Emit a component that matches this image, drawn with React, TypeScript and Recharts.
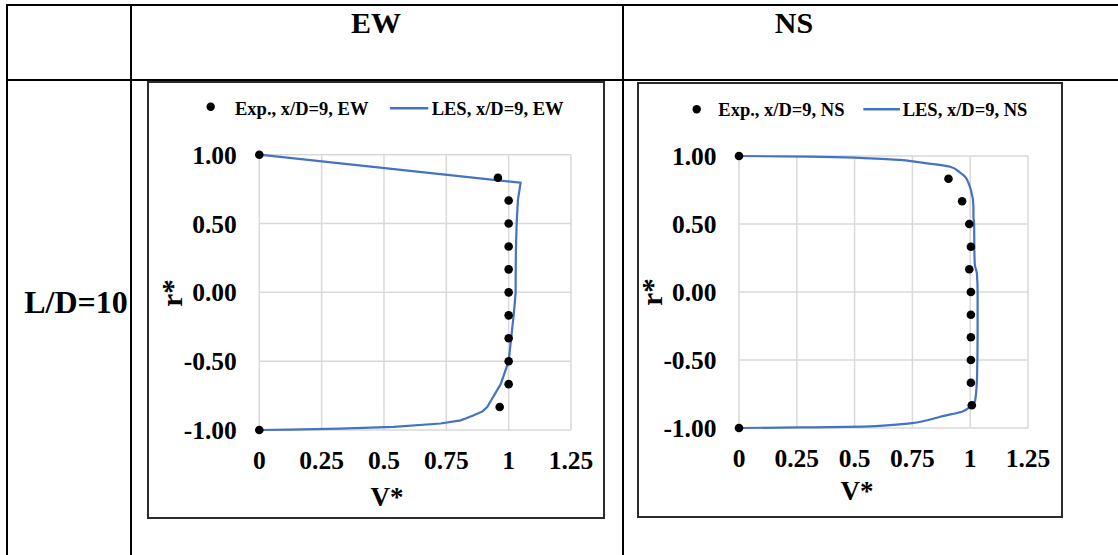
import { ScatterChart, Scatter, XAxis, YAxis, CartesianGrid } from 'recharts';

// radial stations of the measurement rake (r*)
const expR = [1, 0.833, 0.667, 0.5, 0.333, 0.167, 0, -0.167, -0.333, -0.5, -0.667, -0.833, -1];
const ewExpV = [0, 0.957, 1.0, 1.0, 1.0, 1.0, 1.0, 1.0, 1.0, 1.0, 1.0, 0.964, 0];
const nsExpV = [0, 0.906, 0.965, 0.996, 1.003, 0.996, 1.003, 1.003, 1.003, 1.003, 1.003, 1.007, 0];

// LES profiles, ordered from the top wall to the bottom wall
const ewLesR = [1, 0.796, 0.67, 0.5, 0.3, 0.1, 0, -0.15, -0.333, -0.5, -0.667, -0.784, -0.833, -0.865, -0.893, -0.915, -0.93, -0.953, -0.978, -0.99, -0.997, -1];
const ewLesV = [0, 1.048, 1.037, 1.032, 1.029, 1.028, 1.028, 1.021, 1.01, 1.0, 0.968, 0.93, 0.914, 0.895, 0.86, 0.83, 0.807, 0.727, 0.539, 0.324, 0.123, 0];

const nsLesR = [1, 0.995, 0.985, 0.971, 0.958, 0.921, 0.88, 0.848, 0.8, 0.75, 0.627, 0.554, 0.5, 0.3, 0.2, 0.137, 0, -0.3, -0.6, -0.794, -0.843, -0.88, -0.917, -0.945, -0.966, -0.99, -0.996, -1];
const nsLesV = [0, 0.3, 0.54, 0.697, 0.76, 0.913, 0.955, 0.978, 0.993, 1.003, 1.014, 1.014, 1.017, 1.018, 1.02, 1.029, 1.032, 1.032, 1.03, 1.022, 1.0, 0.964, 0.87, 0.81, 0.74, 0.538, 0.25, 0];

const vTicks = [0, 0.25, 0.5, 0.75, 1, 1.25];
const rTicks = [-1, -0.5, 0, 0.5, 1];

const toPoints = (v: number[], r: number[]) => v.map((x, i) => ({ v: x, r: r[i] }));

const FONT = "'Liberation Serif', 'Times New Roman', serif";
const BLUE = '#4472C4';

const tickStyle = { fill: '#000', fontSize: 25.5, fontWeight: 700, fontFamily: FONT };

const Dot = (props: any) => <circle cx={props.cx} cy={props.cy} r={4.3} fill="#000" />;
const NoMarker = () => <g />;

type PanelProps = {
  left: number;
  top: number;
  width: number;
  height: number;
  plot: { top: number; right: number; left: number; bottom: number };
  xGap: number;
  yGap: number;
  curve: 'linear' | 'monotoneY';
  exp: { v: number; r: number }[];
  les: { v: number; r: number }[];
};

function Panel({ left, top, width, height, plot, xGap, yGap, curve, exp, les }: PanelProps) {
  return (
    <div
      style={{
        position: 'absolute',
        left,
        top,
        width,
        height,
        boxSizing: 'border-box',
        border: '2px solid #2b2b2b',
      }}
    >
      <div style={{ position: 'absolute', left: -2, top: -2 }}>
        <ScatterChart width={width} height={height} margin={{ top: plot.top, right: plot.right, left: 0, bottom: 0 }}>
          <CartesianGrid stroke="#d9d9d9" strokeWidth={1.5} />
          <XAxis
            type="number"
            dataKey="v"
            domain={[0, 1.25]}
            ticks={vTicks}
            tickFormatter={(x: number) => String(x)}
            axisLine={false}
            tickLine={false}
            tickSize={0}
            tickMargin={xGap}
            height={plot.bottom}
            tick={tickStyle}
            interval={0}
          />
          <YAxis
            type="number"
            dataKey="r"
            domain={[-1, 1]}
            ticks={rTicks}
            tickFormatter={(y: number) => y.toFixed(2)}
            axisLine={false}
            tickLine={false}
            tickSize={0}
            tickMargin={yGap}
            width={plot.left}
            tick={tickStyle}
            interval={0}
          />
          <Scatter
            data={les}
            line={{ stroke: BLUE, strokeWidth: 2.2 }}
            lineJointType={curve}
            shape={NoMarker}
            isAnimationActive={false}
          />
          <Scatter data={exp} shape={Dot} isAnimationActive={false} />
        </ScatterChart>
      </div>
    </div>
  );
}

const bold = { fontFamily: FONT, fontWeight: 700, fill: '#000' } as const;

export default function App() {
  return (
    <div
      style={{
        position: 'absolute',
        left: 0,
        top: 0,
        width: 1118,
        height: 555,
        overflow: 'hidden',
        background: '#fff',
      }}
    >
      <Panel
        left={147}
        top={81}
        width={458}
        height={438}
        plot={{ top: 73.7, right: 34, left: 112.3, bottom: 89 }}
        xGap={20.5}
        yGap={22.5}
        curve="linear"
        exp={toPoints(ewExpV, expR)}
        les={toPoints(ewLesV, ewLesR)}
      />
      <Panel
        left={637}
        top={82}
        width={426}
        height={436}
        plot={{ top: 74, right: 35, left: 102, bottom: 90 }}
        xGap={21}
        yGap={22.5}
        curve="monotoneY"
        exp={toPoints(nsExpV, expR)}
        les={toPoints(nsLesV, nsLesR)}
      />
      <svg
        width={1118}
        height={555}
        style={{ position: 'absolute', left: 0, top: 0, pointerEvents: 'none' }}
      >
        {/* table rules */}
        <g fill="#000">
          <rect x={6} y={4} width={1112} height={2} />
          <rect x={6} y={79} width={1112} height={2} />
          <rect x={6} y={4} width={2} height={551} />
          <rect x={130} y={4} width={2} height={551} />
          <rect x={622} y={4} width={2} height={551} />
        </g>
        <text x={376} y={33} textAnchor="middle" fontSize={30} {...bold}>EW</text>
        <text x={794} y={33} textAnchor="middle" fontSize={30} {...bold}>NS</text>
        <text x={76} y={312.5} textAnchor="middle" fontSize={32} {...bold}>L/D=10</text>

        {/* EW legend and axis titles */}
        <circle cx={210.7} cy={106.7} r={4.2} fill="#000" />
        <text x={235} y={115} fontSize={18.5} {...bold}>Exp., x/D=9, EW</text>
        <line x1={390} y1={108.3} x2={428.3} y2={108.3} stroke={BLUE} strokeWidth={2.5} />
        <text x={431.7} y={115} fontSize={18.5} {...bold}>LES, x/D=9, EW</text>
        <text x={387} y={506} textAnchor="middle" fontSize={27} {...bold}>V*</text>
        <text transform="translate(182,293) rotate(-90)" textAnchor="middle" fontSize={29} {...bold}>r*</text>

        {/* NS legend and axis titles */}
        <circle cx={696.7} cy={109.3} r={4.2} fill="#000" />
        <text x={718.3} y={115.5} fontSize={18.5} {...bold}>Exp., x/D=9, NS</text>
        <line x1={863.3} y1={109.3} x2={900} y2={109.3} stroke={BLUE} strokeWidth={2.5} />
        <text x={902.7} y={115.5} fontSize={18.5} {...bold}>LES, x/D=9, NS</text>
        <text x={857} y={500} textAnchor="middle" fontSize={27} {...bold}>V*</text>
        <text transform="translate(662,292) rotate(-90)" textAnchor="middle" fontSize={29} {...bold}>r*</text>
      </svg>
    </div>
  );
}
